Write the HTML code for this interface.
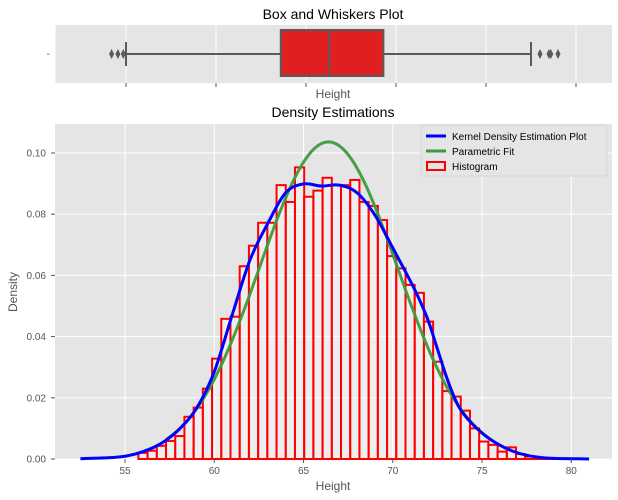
<!DOCTYPE html>
<html><head><meta charset="utf-8">
<style>
body{margin:0;background:#fff;}
svg{display:block;font-family:"Liberation Sans","DejaVu Sans",sans-serif;}
</style></head>
<body>
<svg id="chart" width="618" height="500" viewBox="0 0 618 500" xmlns="http://www.w3.org/2000/svg">
  <text x="333" y="19" font-size="14" text-anchor="middle" fill="#000">Box and Whiskers Plot</text>
  <rect x="55.5" y="25" width="556.5" height="58" fill="#e5e5e5"/>
  <g id="boxgrid"></g>
  <g id="boxplot"></g>
  <text x="50" y="57" font-size="10" fill="#555" text-anchor="end">-</text>
  <text x="333" y="98" font-size="12" text-anchor="middle" fill="#555">Height</text>

  <text x="333" y="117" font-size="14" text-anchor="middle" fill="#000">Density Estimations</text>
  <rect x="55" y="124" width="557" height="335" fill="#e5e5e5"/>
  <g id="grid"></g>
  <g id="bars"></g>
  <g id="lines"></g>
  <g id="axes"></g>
  <text x="333" y="490" font-size="12" text-anchor="middle" fill="#555">Height</text>
  <text x="17" y="292" font-size="12" text-anchor="middle" fill="#555" transform="rotate(-90 17 292)">Density</text>

  <g>
    <rect x="421" y="125" width="186" height="51" fill="#e5e5e5" stroke="#d5d5d5" rx="2"/>
    <line x1="426" y1="136" x2="446" y2="136" stroke="#0000ff" stroke-width="3"/>
    <text x="452" y="140" font-size="10" fill="#000">Kernel Density Estimation Plot</text>
    <line x1="426" y1="151" x2="446" y2="151" stroke="#3d9a3d" stroke-width="3"/>
    <text x="452" y="155" font-size="10" fill="#000">Parametric Fit</text>
    <rect x="427" y="162" width="18" height="8" fill="none" stroke="#ff0000" stroke-width="2"/>
    <text x="452" y="170" font-size="10" fill="#000">Histogram</text>
  </g>
</svg>
<script>
// Histogram data
const binStart = 55.75;
const binWidth = 0.516;
const histDensity = [0.002,0.0027,0.0043,0.0059,0.0075,0.0138,0.0168,0.023,0.0328,0.0458,0.0465,0.063,0.0697,0.0772,0.0772,0.0895,
0.084,0.0953,0.0857,0.0877,0.0919,0.0895,0.0895,0.0912,0.084,0.0827,0.0781,0.0663,0.0623,0.0569,0.0543,0.0449,0.0318,
0.0222,0.0204,0.0158,0.010,0.0057,0.0046,0.0024,0.0038,0.0016,0.0008,0.0005,0.0003];
// KDE curve
const kdeX = [52.5,54,55,56,57,58,59,60,61,62,63,64,65,66,67,68,69,70,71,71.5,72,72.5,73,73.5,74,75,76,77,78,79,80,81];
const kdeY = [0.0001,0.0004,0.0009,0.0024,0.005,0.0095,0.0165,0.0285,0.047,0.065,0.077,0.087,0.0899,0.0892,0.0895,0.087,0.0797,0.069,0.058,0.052,0.045,0.036,0.027,0.0195,0.0145,0.0085,0.0045,0.002,0.0007,0.0002,0.0001,0.0];
// Parametric fit (normal) parameters and range
const fitMean = 66.4;
const fitSd = 3.85;
const fitRange = [57.3, 75.5];
// Box plot stats
const boxQ = [63.6, 66.3, 69.3];
const whiskers = [55.0, 77.5];
const outliers = [54.2, 54.55, 54.85, 78.0, 78.5, 78.6, 79.0];
// Ticks
const xTicks = [55,60,65,70,75,80];
const yTicks = [0.00,0.02,0.04,0.06,0.08,0.10];
const yTickLabels = ["0.00","0.02","0.04","0.06","0.08","0.10"];

const NS="http://www.w3.org/2000/svg";
function mk(tag, attrs, parent){const e=document.createElementNS(NS,tag);for(const k in attrs)e.setAttribute(k,attrs[k]);parent.appendChild(e);return e;}
const xS = v => 125 + (v-55)*17.85;
const yS = v => 459 - v*3060;
const xB = v => 126 + (v-55)*18.0;

const grid=document.getElementById('grid');
xTicks.forEach(t=>{const l=mk('line',{x1:xS(t),x2:xS(t),y1:124,y2:459,stroke:'#fff','stroke-width':1},grid);

});
yTicks.forEach(t=>{const l=mk('line',{x1:55,x2:612,y1:yS(t),y2:yS(t),stroke:'#fff','stroke-width':1},grid);

});

const bars=document.getElementById('bars');
histDensity.forEach((d,i)=>{const x0=xS(binStart+i*binWidth),x1=xS(binStart+(i+1)*binWidth);
const r=mk('rect',{x:x0,y:yS(d),width:x1-x0,height:459-yS(d),fill:'rgba(255,255,255,0.35)',stroke:'#ff0000','stroke-width':2},bars);

});

const lines=document.getElementById('lines');
let fp=[];for(let x=fitRange[0];x<=fitRange[1]+1e-9;x+=0.1){const y=Math.exp(-0.5*((x-fitMean)/fitSd)**2)/(fitSd*Math.sqrt(2*Math.PI));fp.push(xS(x).toFixed(1)+','+yS(y).toFixed(1));}
const g=mk('polyline',{points:fp.join(' '),fill:'none',stroke:'#3d9a3d','stroke-width':3,opacity:0.95},lines);


const pts=kdeX.map((x,i)=>[xS(x),yS(kdeY[i])]);
let d='M'+pts[0][0]+','+pts[0][1];
for(let i=0;i<pts.length-1;i++){const p0=pts[Math.max(i-1,0)],p1=pts[i],p2=pts[i+1],p3=pts[Math.min(i+2,pts.length-1)];
d+=` C${p1[0]+(p2[0]-p0[0])/6},${p1[1]+(p2[1]-p0[1])/6} ${p2[0]-(p3[0]-p1[0])/6},${p2[1]-(p3[1]-p1[1])/6} ${p2[0]},${p2[1]}`;}
const k=mk('path',{d:d,fill:'none',stroke:'#0000ff','stroke-width':3},lines);



const axes=document.getElementById('axes');
xTicks.forEach(t=>{mk('line',{x1:xS(t),x2:xS(t),y1:459,y2:463,stroke:'#555'},axes);
const tx=mk('text',{x:xS(t),y:474,'font-size':10,fill:'#555','text-anchor':'middle'},axes);tx.textContent=t;

});
yTicks.forEach((t,i)=>{mk('line',{x1:51,x2:55,y1:yS(t),y2:yS(t),stroke:'#555'},axes);
const tx=mk('text',{x:46,y:yS(t)+3.5,'font-size':10,fill:'#555','text-anchor':'end'},axes);tx.textContent=yTickLabels[i];

});

const bg=document.getElementById('boxgrid');
xTicks.forEach(t=>{const l=mk('line',{x1:xB(t),x2:xB(t),y1:25,y2:83,stroke:'#fff'},bg);


mk('line',{x1:xB(t),x2:xB(t),y1:83,y2:87,stroke:'#555'},bg);});
const bp=document.getElementById('boxplot');
const wl=mk('line',{x1:xB(whiskers[0]),x2:xB(boxQ[0]),y1:54,y2:54,stroke:'#5a5a5a','stroke-width':2},bp);


const wr=mk('line',{x1:xB(boxQ[2]),x2:xB(whiskers[1]),y1:54,y2:54,stroke:'#5a5a5a','stroke-width':2},bp);


whiskers.forEach(w=>{mk('line',{x1:xB(w),x2:xB(w),y1:42,y2:66,stroke:'#5a5a5a','stroke-width':2},bp);});
const bx=mk('rect',{x:xB(boxQ[0]),y:30,width:xB(boxQ[2])-xB(boxQ[0]),height:46,fill:'#e02020',stroke:'#5a5a5a','stroke-width':2},bp);


const md=mk('line',{x1:xB(boxQ[1]),x2:xB(boxQ[1]),y1:30,y2:76,stroke:'#5a5a5a','stroke-width':2},bp);


outliers.forEach(o=>{const x=xB(o);const p=mk('polygon',{points:`${x},49 ${x+2.5},54 ${x},59 ${x-2.5},54`,fill:'#5a5a5a'},bp);

});
</script>
</body></html>
